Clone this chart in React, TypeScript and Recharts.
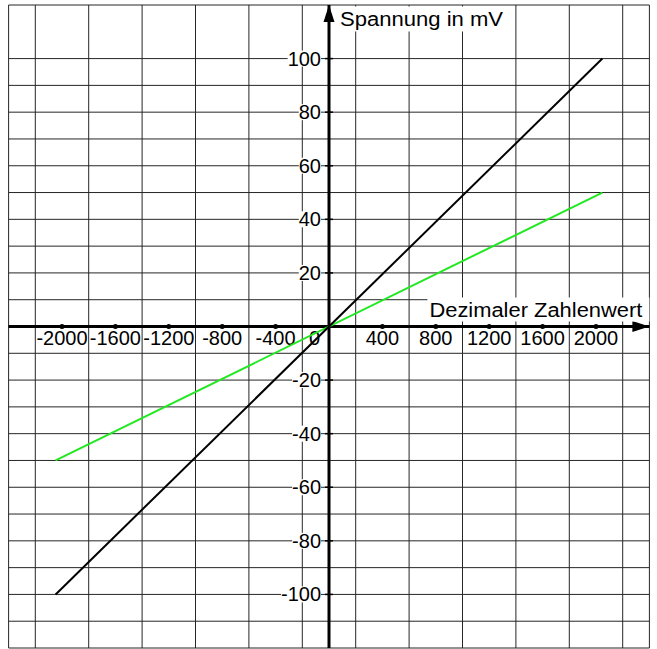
import { CartesianGrid, Line, LineChart, ReferenceDot, ReferenceLine, XAxis, YAxis } from 'recharts';

// Dezimaler Zahlenwert (12 bit) -> Spannung in mV
const xValues = [-2048, 2048];
const blackValues = [-100, 100];
const greenValues = [-50, 50];

const xGridTicks = [
  -2200, -2000, -1800, -1600, -1400, -1200, -1000, -800, -600, -400, -200, 0,
  200, 400, 600, 800, 1000, 1200, 1400, 1600, 1800, 2000, 2200,
];
const yGridTicks = [
  -120, -110, -100, -90, -80, -70, -60, -50, -40, -30, -20, -10, 0,
  10, 20, 30, 40, 50, 60, 70, 80, 90, 100, 110, 120,
];
const xLabels = [-2000, -1600, -1200, -800, -400, 400, 800, 1200, 1600, 2000];
const yLabels = [100, 80, 60, 40, 20, -20, -40, -60, -80, -100];

const xTitle = 'Dezimaler Zahlenwert';
const yTitle = 'Spannung in mV';

const FONT = '"Liberation Sans", Arial, sans-serif';
const FS = 20;

const data = xValues.map((x, i) => ({ x, black: blackValues[i], green: greenValues[i] }));

// rough text width for digits and minus sign
const textWidth = (s: string) =>
  s.split('').reduce((w, c) => w + (c === '-' ? 0.333 : 0.556) * FS, 0);

const XTick = (props: any) => {
  const { cx, cy, label } = props;
  const w = textWidth(label);
  return (
    <g>
      <rect x={cx - w / 2} y={cy + 4} width={w} height={16} fill="#fff" />
      <circle cx={cx} cy={cy} r={2.5} fill="#000" />
      <text x={cx} y={cy + 18} textAnchor="middle" fontFamily={FONT} fontSize={FS} fill="#000">
        {label}
      </text>
    </g>
  );
};

const YTick = (props: any) => {
  const { cx, cy, label } = props;
  const w = textWidth(label);
  return (
    <g>
      <rect x={cx - 8 - w} y={cy - 8} width={w} height={16} fill="#fff" />
      <line x1={cx - 4} x2={cx + 4} y1={cy} y2={cy} stroke="#000" strokeWidth={1.5} />
      <text x={cx - 8} y={cy + 7} textAnchor="end" fontFamily={FONT} fontSize={FS} fill="#000">
        {label}
      </text>
    </g>
  );
};

const OriginLabel = (props: any) => {
  const { cx, cy } = props;
  return (
    <g>
      <rect x={cx - 20} y={cy + 4} width={11} height={16} fill="#fff" />
      <text x={cx - 9} y={cy + 18} textAnchor="end" fontFamily={FONT} fontSize={FS} fill="#000">
        0
      </text>
    </g>
  );
};

const YArrow = (props: any) => {
  const { cx, cy } = props;
  return (
    <g>
      <polygon points={`${cx},${cy} ${cx - 5.5},${cy + 17} ${cx + 5.5},${cy + 17}`} fill="#000" />
      <rect x={cx + 8} y={cy + 1.5} width={170} height={25} fill="#fff" />
      <text x={cx + 11} y={cy + 21} fontFamily={FONT} fontSize={FS} textLength={163} lengthAdjust="spacingAndGlyphs" fill="#000">
        {yTitle}
      </text>
    </g>
  );
};

const XArrow = (props: any) => {
  const { cx, cy } = props;
  return (
    <g>
      <polygon points={`${cx},${cy} ${cx - 17},${cy - 5.5} ${cx - 17},${cy + 5.5}`} fill="#000" />
      <rect x={cx - 222} y={cy - 29} width={222} height={24} fill="#fff" />
      <text x={cx - 220} y={cy - 10} fontFamily={FONT} fontSize={FS} textLength={213} lengthAdjust="spacingAndGlyphs" fill="#000">
        {xTitle}
      </text>
    </g>
  );
};

export default function App() {
  return (
    <div style={{ position: 'absolute', left: 0, top: 0, background: '#fff' }}>
      <LineChart width={657} height={649} data={data} margin={{ top: 5, right: 7.6, bottom: 1, left: 8.6 }}>
        <CartesianGrid stroke="#262626" strokeWidth={1} />
        <XAxis dataKey="x" type="number" domain={[-2400, 2400]} ticks={xGridTicks} hide allowDataOverflow />
        <YAxis type="number" domain={[-120, 120]} ticks={yGridTicks} hide allowDataOverflow />

        {xLabels.map((v) => (
          <ReferenceDot key={`x${v}`} x={v} y={0} ifOverflow="visible" zIndex={10}
            shape={(p: any) => <XTick {...p} label={String(v)} />} />
        ))}
        {yLabels.map((v) => (
          <ReferenceDot key={`y${v}`} x={0} y={v} ifOverflow="visible" zIndex={10}
            shape={(p: any) => <YTick {...p} label={String(v)} />} />
        ))}
        <ReferenceDot x={0} y={0} ifOverflow="visible" zIndex={10} shape={(p: any) => <OriginLabel {...p} />} />

        <ReferenceLine y={0} stroke="#000" strokeWidth={3} zIndex={20} />
        <ReferenceLine x={0} stroke="#000" strokeWidth={3} zIndex={20} />
        <ReferenceDot x={0} y={120} ifOverflow="visible" zIndex={20} shape={(p: any) => <YArrow {...p} />} />
        <ReferenceDot x={2400} y={0} ifOverflow="visible" zIndex={20} shape={(p: any) => <XArrow {...p} />} />

        <Line type="linear" dataKey="green" stroke="#22e822" strokeWidth={2} dot={false} isAnimationActive={false} />
        <Line type="linear" dataKey="black" stroke="#000" strokeWidth={2} dot={false} isAnimationActive={false} />
      </LineChart>
    </div>
  );
}
